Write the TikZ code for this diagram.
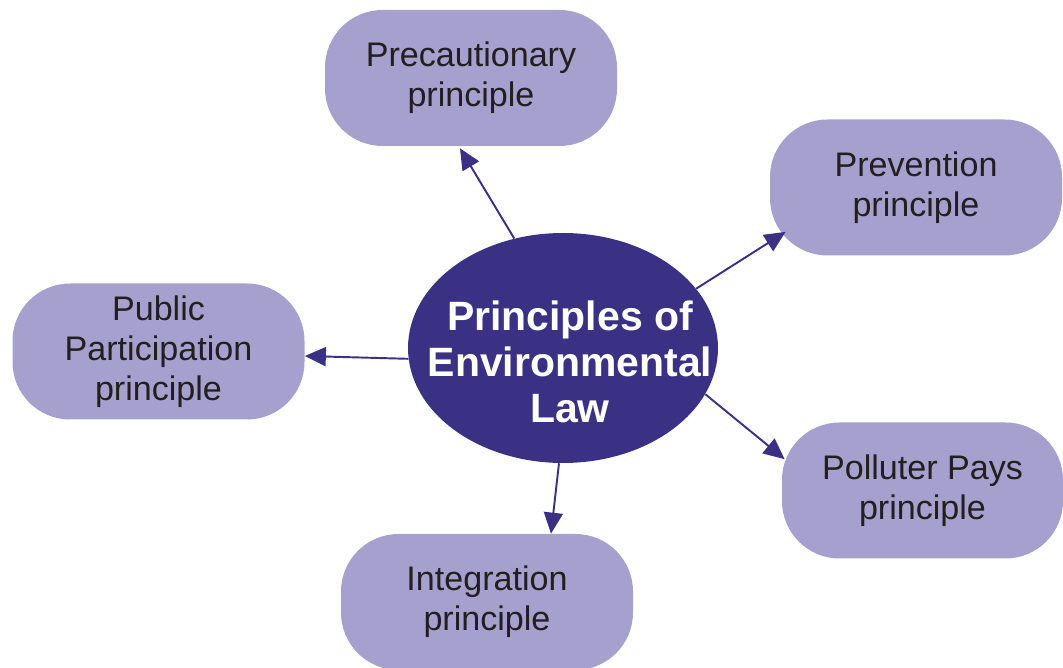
\documentclass[tikz,border=0pt]{standalone}
\usepackage{fontspec}
\setmainfont{Liberation Sans}
\usetikzlibrary{shapes.geometric,arrows.meta}
\definecolor{lawblue}{RGB}{58,49,133}
\definecolor{boxlilac}{RGB}{166,160,206}
\definecolor{boxtext}{RGB}{35,31,32}

\begin{document}
\begin{tikzpicture}[
	principle/.style={draw=none,fill=boxlilac,rounded corners=1.15cm,minimum width=5.84cm,minimum height=2.72cm,align=center,text=boxtext,font=\fontsize{19.4}{22.8}\selectfont},
	lawnode/.style={ellipse,fill=lawblue,minimum width=6.2cm,minimum height=4.6cm,inner sep=0pt},
	lawtext/.style={align=center,text=white,font=\fontsize{23.3}{26.2}\selectfont\bfseries,xshift=0.14cm,yshift=-0.28cm},
	link/.style={draw=lawblue,line width=1.1pt,-{Triangle[length=0.42cm,width=0.38cm]}}
]
	\useasboundingbox (0,0) rectangle (21.26,13.36);
	\clip (0,0) rectangle (21.26,13.36);
	\node[lawnode,label={[lawtext]center:Principles of\\Environmental\\Law}] (law) at (11.26,6.40) {};
	\node[principle] (prec) at (9.42,11.80) {Precautionary\\principle};
	\node[principle] (prev) at (18.32,9.61) {Prevention\\principle};
	\node[principle] (pub) at (3.17,6.33) {Public\\Participation\\principle};
	\node[principle,minimum width=5.62cm] (pol) at (18.45,3.55) {Polluter Pays\\principle};
	\node[principle] (integ) at (9.74,1.32) {Integration\\principle};

	\draw[link] (law.114) -- ([shift={(-0.22,-0.04)}]prec.south);
	\draw[link] (law.24) -- ([shift={(0.32,0.48)}]prev.south west);
	\draw[link] (law.184) -- ([shift={(0,-0.09)}]pub.east);
	\draw[link] (law.342) -- ([shift={(0.06,-0.74)}]pol.north west);
	\draw[link] (law.268) -- ([shift={(1.28,0)}]integ.north);
\end{tikzpicture}
\end{document}
